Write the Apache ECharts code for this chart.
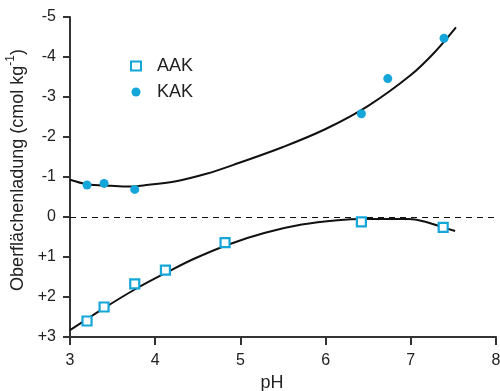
<!DOCTYPE html>
<html>
<head>
<meta charset="utf-8">
<script src="https://cdn.jsdelivr.net/npm/echarts@6/dist/echarts.min.js"></script>
<style>
  html, body { margin: 0; padding: 0; background: #fff; }
  #chart { width: 500px; height: 391px; }
</style>
</head>
<body>
<div id="chart"></div>
<script>
// measured points (pH, surface charge in cmol/kg; negative values at top)
const aakPH = [3.2, 3.4, 3.76, 4.12, 4.82, 6.42, 7.38];
const aakCharge = [2.6, 2.25, 1.67, 1.33, 0.64, 0.12, 0.26];
const kakPH = [3.2, 3.4, 3.76, 6.42, 6.73, 7.39];
const kakCharge = [-0.8, -0.84, -0.69, -2.58, -3.46, -4.47];

// fitted curves
const kakFitPH = [3.0, 3.2, 3.48, 3.69, 3.86, 4.23, 4.6, 4.98, 5.5, 6.0, 6.5, 7.0, 7.28, 7.53];
const kakFitCharge = [-0.93, -0.82, -0.78, -0.76, -0.79, -0.89, -1.08, -1.35, -1.75, -2.2, -2.78, -3.55, -4.12, -4.74];
const aakFitPH = [3.0, 3.39, 3.77, 4.14, 4.45, 4.87, 5.28, 5.72, 6.14, 6.45, 6.98, 7.17, 7.35, 7.52];
const aakFitCharge = [2.83, 2.29, 1.8, 1.38, 1.05, 0.68, 0.4, 0.19, 0.08, 0.05, 0.05, 0.12, 0.24, 0.35];

const xTicks = [3, 4, 5, 6, 7, 8];
const yTicks = [-5, -4, -3, -2, -1, 0, 1, 2, 3];

const cyan = "#14a6d9";
const axisColor = "#333";
const textColor = "#222";
const fontFamily = "'Liberation Sans', Arial, sans-serif";

const zip = (xs, ys) => xs.map((x, i) => [x, ys[i]]);

const chart = echarts.init(document.getElementById("chart"));

chart.setOption({
  animation: false,
  textStyle: { fontFamily: fontFamily },
  grid: { left: 70, right: 4, top: 17, bottom: 54, outerBoundsMode: "none" },
  legend: {
    orient: "vertical",
    left: 125,
    top: 52,
    itemGap: 8,
    itemWidth: 10,
    itemHeight: 9,
    data: ["AAK", "KAK"],
    textStyle: { fontSize: 18, color: textColor, fontFamily: fontFamily, padding: [0, 0, 0, 11] },
  },
  xAxis: {
    type: "value",
    min: xTicks[0],
    max: xTicks[xTicks.length - 1],
    interval: 1,
    name: "pH",
    nameLocation: "middle",
    nameGap: 36,
    nameTextStyle: { fontSize: 18, color: textColor, padding: [0, 22, 0, 0] },
    axisLine: { onZero: false, lineStyle: { color: axisColor, width: 2 } },
    axisTick: { length: 8, lineStyle: { color: axisColor, width: 2 } },
    axisLabel: { fontSize: 16, color: textColor, margin: 16 },
    splitLine: { show: false },
  },
  yAxis: {
    type: "value",
    inverse: true,
    min: yTicks[0],
    max: yTicks[yTicks.length - 1],
    interval: 1,
    name: "{t|Oberflächenladung (cmol kg}{s|-1}{t|)}",
    nameLocation: "middle",
    nameGap: 42,
    nameRotate: 90,
    nameTextStyle: {
      color: textColor,
      padding: [0, 0, 0, 14],
      rich: {
        t: { fontSize: 18, color: textColor, lineHeight: 22, verticalAlign: "bottom" },
        s: { fontSize: 12, color: textColor, lineHeight: 22, verticalAlign: "top" },
      },
    },
    axisLine: { onZero: false, lineStyle: { color: axisColor, width: 2 } },
    axisTick: { length: 7, lineStyle: { color: axisColor, width: 2 } },
    axisLabel: {
      fontSize: 16,
      color: textColor,
      margin: 14,
      formatter: (v) => (v > 0 ? "+" + v : String(v)),
    },
    splitLine: { show: false },
  },
  series: [
    {
      name: "KAK fit",
      type: "line",
      smooth: 0.35,
      symbol: "none",
      data: zip(kakFitPH, kakFitCharge),
      lineStyle: { color: "#111", width: 2 },
      z: 2,
      markLine: {
        silent: true,
        symbol: "none",
        label: { show: false },
        lineStyle: { color: "#111", width: 1.2, type: [6, 5] },
        data: [{ yAxis: 0 }],
      },
    },
    {
      name: "AAK fit",
      type: "line",
      smooth: 0.35,
      symbol: "none",
      data: zip(aakFitPH, aakFitCharge),
      lineStyle: { color: "#111", width: 2 },
      z: 2,
    },
    {
      name: "AAK",
      type: "scatter",
      symbol: "rect",
      symbolSize: 9,
      data: zip(aakPH, aakCharge),
      itemStyle: { color: "#fff", borderColor: cyan, borderWidth: 2.2, opacity: 1 },
      z: 5,
    },
    {
      name: "KAK",
      type: "scatter",
      symbol: "circle",
      symbolSize: 9,
      data: zip(kakPH, kakCharge),
      itemStyle: { color: cyan, opacity: 1 },
      z: 5,
    },
  ],
});
</script>
</body>
</html>
